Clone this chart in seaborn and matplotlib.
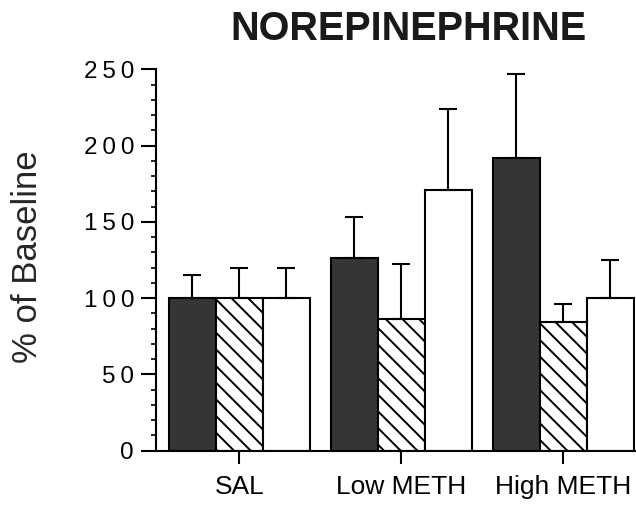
import matplotlib
matplotlib.use("Agg")
import matplotlib.pyplot as plt
from matplotlib.ticker import MultipleLocator, FixedLocator, FixedFormatter
import seaborn as sns
import pandas as pd

# ---- data ----
groups = ["SAL", "Low METH", "High METH"]
series = ["Series 1", "Series 2", "Series 3"]
series1_values = [100, 126, 192]
series1_errors = [15, 27, 55]
series2_values = [100, 86, 84]
series2_errors = [20, 36, 12]
series3_values = [100, 171, 100]
series3_errors = [20, 53, 25]
ytick_values = [0, 50, 100, 150, 200, 250]
title = "NOREPINEPHRINE"
ylabel = "% of Baseline"

sns.set_style("white")
plt.rcParams["font.family"] = ["Liberation Sans", "DejaVu Sans"]
plt.rcParams["hatch.linewidth"] = 1.4

rows = []
for s, vals, errs in zip(series,
                         [series1_values, series2_values, series3_values],
                         [series1_errors, series2_errors, series3_errors]):
    for g, v, e in zip(groups, vals, errs):
        rows.append({"group": g, "series": s, "value": v, "err": e})
df = pd.DataFrame(rows)

fig = plt.figure(figsize=(6.36, 5.08), dpi=100)
ax = fig.add_axes([156 / 636, 57.5 / 508, 480 / 636, 381.2 / 508])

colors = ["#353535", "white", "white"]
sns.barplot(data=df, x="group", y="value", hue="series", order=groups,
            hue_order=series, palette=colors, saturation=1, edgecolor="black",
            linewidth=1.5, width=0.87, gap=0, errorbar=None, legend=False, ax=ax)

# hatch the second series
for bar in ax.containers[1]:
    bar.set_hatch("\\\\")

# upward-only error bars
for cont, s in zip(ax.containers, series):
    sub = df[df["series"] == s].set_index("group").loc[groups]
    xs = [b.get_x() + b.get_width() / 2 for b in cont]
    ys = [b.get_height() for b in cont]
    errs = list(sub["err"])
    ax.errorbar(xs, ys, yerr=[[0] * len(errs), errs], fmt="none",
                ecolor="black", elinewidth=1.5, capsize=6.5, capthick=1.5,
                zorder=3)

ax.set_ylim(0, 250)
ax.set_xlim(-0.515, 2.45)
ax.yaxis.set_major_locator(FixedLocator(ytick_values))
ax.yaxis.set_major_formatter(FixedFormatter(["\u2009".join(str(v)) for v in ytick_values]))
ax.yaxis.set_minor_locator(MultipleLocator(10))

for side in ["top", "right"]:
    ax.spines[side].set_visible(False)
for side in ["left", "bottom"]:
    ax.spines[side].set_linewidth(1.5)
    ax.spines[side].set_color("black")

ax.tick_params(axis="y", which="major", direction="out", length=10.8, width=1.5,
               labelsize=17.5, pad=5, left=True, colors="black")
ax.tick_params(axis="y", which="minor", direction="out", length=3.8, width=1.2,
               left=True, color="black")
ax.tick_params(axis="x", which="major", direction="out", length=9.5, width=1.5,
               labelsize=19, pad=8, bottom=True, colors="black")

ax.set_xlabel("")
ax.set_ylabel(ylabel, fontsize=25, va="center")
ax.yaxis.set_label_coords(-0.267, 0.508)

fig.text(408 / 636, 1 - 29 / 508, title, fontsize=28.5, fontweight="bold",
         ha="center", va="center", color="#1a1a1a")

fig.savefig("out.png", dpi=100)
